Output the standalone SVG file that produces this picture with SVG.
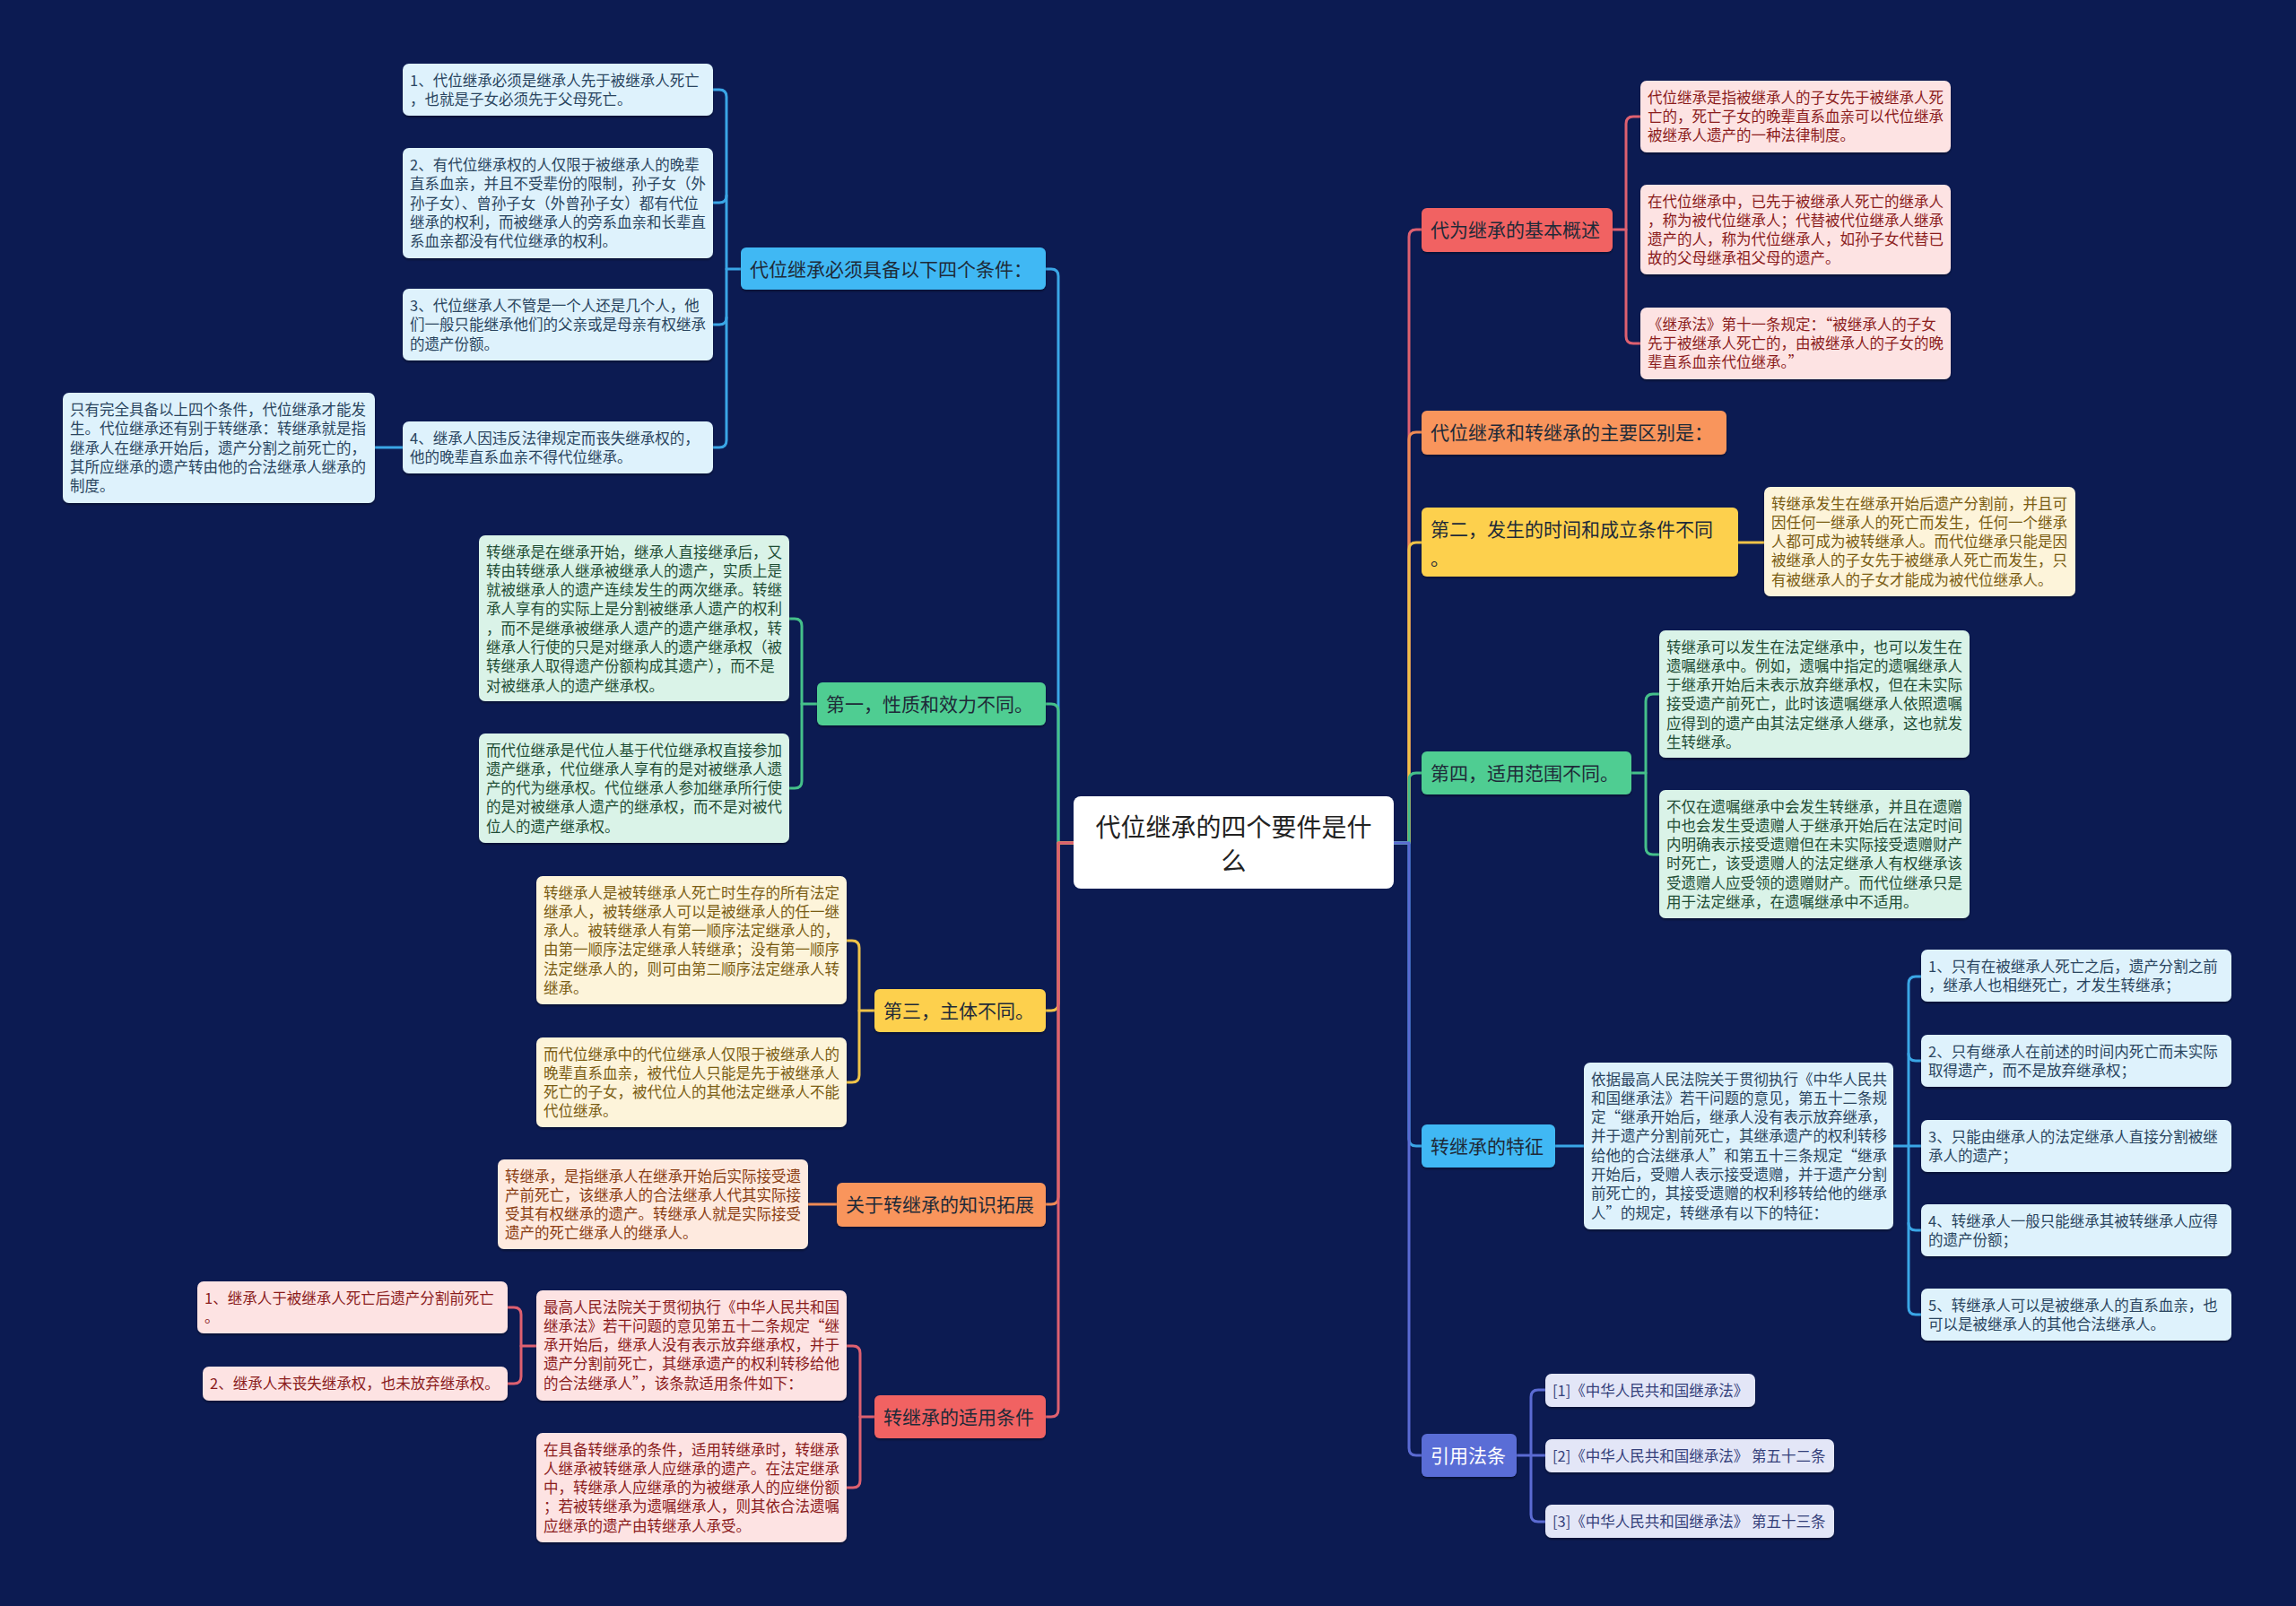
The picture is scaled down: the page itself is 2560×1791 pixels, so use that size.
<svg xmlns="http://www.w3.org/2000/svg" width="2560" height="1791" viewBox="0 0 2560 1791">
<style>
text{font-family:"Noto Sans CJK SC","Noto Sans",sans-serif}
.t{font-size:16.5px}
.m{font-size:21px}
.ln{fill:none;stroke-width:3;stroke-linecap:round;stroke-linejoin:round}
.cb{stroke:#3aa6e6}.cg{stroke:#45c08a}.cy{stroke:#f0c348}.co{stroke:#ef8b55}.cr{stroke:#de6070}.ci{stroke:#5b6bd3}
.nb{fill:#40b8f4}.ng{fill:#4fcd92}.ny{fill:#fdd04e}.no{fill:#f9955c}.nr{fill:#f16262}.ni{fill:#5a6dd6}
.bb{fill:#def2fc}.bg{fill:#daf3e8}.by{fill:#fdf4da}.bo{fill:#feeadf}.br{fill:#fde3e3}.bi{fill:#e3e6f7}
.tb{fill:#2a4560}.tg{fill:#1f4d35}.ty{fill:#7a5c12}.to{fill:#8a3d12}.tr{fill:#8b1c1c}.ti{fill:#34407a}
.mt{fill:#1e2a38}
rect.nb,rect.ng,rect.ny,rect.no,rect.nr,rect.ni,rect.bb,rect.bg,rect.by,rect.bo,rect.br,rect.bi{filter:url(#sh)}
</style>
<defs>
<filter id="sh" x="-5%" y="-10%" width="110%" height="130%">
<feDropShadow dx="0" dy="2" stdDeviation="1" flood-color="#000" flood-opacity="0.35"/>
</filter>
</defs>
<rect width="2560" height="1791" fill="#0c1b52"/>

<g id="connectors">
<path class="ln cb" d="M1197,940 H1180 V308 Q1180,300 1172,300 H1166"/>
<path class="ln cg" d="M1197,940 H1180 V793 Q1180,785 1172,785 H1166"/>
<path class="ln cy" d="M1197,940 H1180 V1119 Q1180,1127 1172,1127 H1166"/>
<path class="ln co" d="M1197,940 H1180 V1335 Q1180,1343 1172,1343 H1166"/>
<path class="ln cr" d="M1197,940 H1180 V1572 Q1180,1580 1172,1580 H1166"/>
<path class="ln cr" d="M1554,940 H1571 V264 Q1571,256 1579,256 H1585"/>
<path class="ln co" d="M1554,940 H1571 V490 Q1571,482 1579,482 H1585"/>
<path class="ln cy" d="M1554,940 H1571 V613 Q1571,605 1579,605 H1585"/>
<path class="ln cg" d="M1554,940 H1571 V870 Q1571,862 1579,862 H1585"/>
<path class="ln cb" d="M1554,940 H1571 V1270 Q1571,1278 1579,1278 H1585"/>
<path class="ln ci" d="M1554,940 H1571 V1615 Q1571,1623 1579,1623 H1585"/>
<path class="ln cb" d="M826,300 H810"/>
<path class="ln cb" d="M795,100 H802 Q810,100 810,108 V491 Q810,499 802,499 H795"/>
<path class="ln cb" d="M810,218 Q810,226 802,226 H795 M810,354 Q810,362 802,362 H795"/>
<path class="ln cb" d="M449,499 H418"/>
<path class="ln cg" d="M911,785 H894"/>
<path class="ln cg" d="M880,690 H886 Q894,690 894,698 V871 Q894,879 886,879 H880"/>
<path class="ln cy" d="M975,1127 H958"/>
<path class="ln cy" d="M944,1049 H950 Q958,1049 958,1057 V1199 Q958,1207 950,1207 H944"/>
<path class="ln co" d="M933,1343 H901"/>
<path class="ln cr" d="M975,1580 H959"/>
<path class="ln cr" d="M944,1501 H951 Q959,1501 959,1509 V1651 Q959,1659 951,1659 H944"/>
<path class="ln cr" d="M598,1501 H581"/>
<path class="ln cr" d="M566,1458 H573 Q581,1458 581,1466 V1535 Q581,1543 573,1543 H566"/>
<path class="ln cr" d="M1798,256 H1813"/>
<path class="ln cr" d="M1829,130 H1821 Q1813,130 1813,138 V375 Q1813,383 1821,383 H1829"/>
<path class="ln cy" d="M1938,605 H1967"/>
<path class="ln cg" d="M1819,862 H1835"/>
<path class="ln cg" d="M1850,774 H1843 Q1835,774 1835,782 V945 Q1835,953 1843,953 H1850"/>
<path class="ln cb" d="M1734,1278 H1766"/>
<path class="ln cb" d="M2111,1278 H2142"/>
<path class="ln cb" d="M2142,1089 H2136 Q2128,1089 2128,1097 V1458 Q2128,1466 2136,1466 H2142"/>
<path class="ln cb" d="M2128,1175 Q2128,1183 2136,1183 H2142 M2128,1364 Q2128,1372 2136,1372 H2142"/>
<path class="ln ci" d="M1691,1623 H1723"/>
<path class="ln ci" d="M1723,1550 H1715 Q1707,1550 1707,1558 V1689 Q1707,1697 1715,1697 H1723"/>
</g>

<g id="center">
<rect x="1197" y="888" width="357" height="103" rx="8" fill="#ffffff"/>
<text x="1375.5" y="932.5" font-size="28" text-anchor="middle" fill="#222">代位继承的四个要件是什</text>
<text x="1375.5" y="970.5" font-size="28" text-anchor="middle" fill="#222">么</text>
</g>

<g id="n-tiaojian">
<rect class="nb" x="826" y="276" width="340" height="47" rx="6"/>
<text class="m mt" x="836" y="307.5">代位继承必须具备以下四个条件：</text>
</g>
<g id="n-b1">
<rect class="bb" x="449" y="71" width="346" height="58" rx="7"/>
<text class="t tb" x="457" y="96"><tspan x="457">1、代位继承必须是继承人先于被继承人死亡</tspan><tspan x="457" dy="21.3">，也就是子女必须先于父母死亡。</tspan></text>
</g>
<g id="n-b2">
<rect class="bb" x="449" y="165" width="346" height="123" rx="7"/>
<text class="t tb" x="457" y="190"><tspan x="457">2、有代位继承权的人仅限于被继承人的晚辈</tspan><tspan x="457" dy="21.3">直系血亲，并且不受辈份的限制，孙子女（外</tspan><tspan x="457" dy="21.3">孙子女）、曾孙子女（外曾孙子女）都有代位</tspan><tspan x="457" dy="21.3">继承的权利，而被继承人的旁系血亲和长辈直</tspan><tspan x="457" dy="21.3">系血亲都没有代位继承的权利。</tspan></text>
</g>
<g id="n-b3">
<rect class="bb" x="449" y="322" width="346" height="80" rx="7"/>
<text class="t tb" x="457" y="347"><tspan x="457">3、代位继承人不管是一个人还是几个人，他</tspan><tspan x="457" dy="21.3">们一般只能继承他们的父亲或是母亲有权继承</tspan><tspan x="457" dy="21.3">的遗产份额。</tspan></text>
</g>
<g id="n-b4">
<rect class="bb" x="449" y="470" width="346" height="58" rx="7"/>
<text class="t tb" x="457" y="495"><tspan x="457">4、继承人因违反法律规定而丧失继承权的，</tspan><tspan x="457" dy="21.3">他的晚辈直系血亲不得代位继承。</tspan></text>
</g>
<g id="n-b4c">
<rect class="bb" x="70" y="438" width="348" height="123" rx="7"/>
<text class="t tb" x="78" y="463"><tspan x="78">只有完全具备以上四个条件，代位继承才能发</tspan><tspan x="78" dy="21.3">生。代位继承还有别于转继承：转继承就是指</tspan><tspan x="78" dy="21.3">继承人在继承开始后，遗产分割之前死亡的，</tspan><tspan x="78" dy="21.3">其所应继承的遗产转由他的合法继承人继承的</tspan><tspan x="78" dy="21.3">制度。</tspan></text>
</g>

<g id="n-diyi">
<rect class="ng" x="911" y="761" width="255" height="48" rx="6"/>
<text class="m mt" x="921" y="792.5">第一，性质和效力不同。</text>
</g>
<g id="n-ga">
<rect class="bg" x="534" y="597" width="346" height="185" rx="7"/>
<text class="t tg" x="542" y="621.5"><tspan x="542">转继承是在继承开始，继承人直接继承后，又</tspan><tspan x="542" dy="21.3">转由转继承人继承被继承人的遗产，实质上是</tspan><tspan x="542" dy="21.3">就被继承人的遗产连续发生的两次继承。转继</tspan><tspan x="542" dy="21.3">承人享有的实际上是分割被继承人遗产的权利</tspan><tspan x="542" dy="21.3">，而不是继承被继承人遗产的遗产继承权，转</tspan><tspan x="542" dy="21.3">继承人行使的只是对继承人的遗产继承权（被</tspan><tspan x="542" dy="21.3">转继承人取得遗产份额构成其遗产），而不是</tspan><tspan x="542" dy="21.3">对被继承人的遗产继承权。</tspan></text>
</g>
<g id="n-gb">
<rect class="bg" x="534" y="818" width="346" height="122" rx="7"/>
<text class="t tg" x="542" y="842.5"><tspan x="542">而代位继承是代位人基于代位继承权直接参加</tspan><tspan x="542" dy="21.3">遗产继承，代位继承人享有的是对被继承人遗</tspan><tspan x="542" dy="21.3">产的代为继承权。代位继承人参加继承所行使</tspan><tspan x="542" dy="21.3">的是对被继承人遗产的继承权，而不是对被代</tspan><tspan x="542" dy="21.3">位人的遗产继承权。</tspan></text>
</g>

<g id="n-disan">
<rect class="ny" x="975" y="1103" width="191" height="48" rx="6"/>
<text class="m mt" x="985" y="1134.5">第三，主体不同。</text>
</g>
<g id="n-yc">
<rect class="by" x="598" y="977" width="346" height="143" rx="7"/>
<text class="t ty" x="606" y="1001.5"><tspan x="606">转继承人是被转继承人死亡时生存的所有法定</tspan><tspan x="606" dy="21.3">继承人，被转继承人可以是被继承人的任一继</tspan><tspan x="606" dy="21.3">承人。被转继承人有第一顺序法定继承人的，</tspan><tspan x="606" dy="21.3">由第一顺序法定继承人转继承；没有第一顺序</tspan><tspan x="606" dy="21.3">法定继承人的，则可由第二顺序法定继承人转</tspan><tspan x="606" dy="21.3">继承。</tspan></text>
</g>
<g id="n-yd">
<rect class="by" x="598" y="1157" width="346" height="100" rx="7"/>
<text class="t ty" x="606" y="1181.5"><tspan x="606">而代位继承中的代位继承人仅限于被继承人的</tspan><tspan x="606" dy="21.3">晚辈直系血亲，被代位人只能是先于被继承人</tspan><tspan x="606" dy="21.3">死亡的子女，被代位人的其他法定继承人不能</tspan><tspan x="606" dy="21.3">代位继承。</tspan></text>
</g>

<g id="n-tuozhan">
<rect class="no" x="933" y="1319" width="233" height="49" rx="6"/>
<text class="m mt" x="943" y="1351">关于转继承的知识拓展</text>
</g>
<g id="n-oe">
<rect class="bo" x="555" y="1293" width="346" height="100" rx="7"/>
<text class="t to" x="563" y="1317.5"><tspan x="563">转继承，是指继承人在继承开始后实际接受遗</tspan><tspan x="563" dy="21.3">产前死亡，该继承人的合法继承人代其实际接</tspan><tspan x="563" dy="21.3">受其有权继承的遗产。转继承人就是实际接受</tspan><tspan x="563" dy="21.3">遗产的死亡继承人的继承人。</tspan></text>
</g>

<g id="n-shiyong">
<rect class="nr" x="975" y="1556" width="191" height="48" rx="6"/>
<text class="m mt" x="985" y="1587.5">转继承的适用条件</text>
</g>
<g id="n-rf">
<rect class="br" x="598" y="1439" width="346" height="123" rx="7"/>
<text class="t tr" x="606" y="1463.5"><tspan x="606">最高人民法院关于贯彻执行《中华人民共和国</tspan><tspan x="606" dy="21.3">继承法》若干问题的意见第五十二条规定“继</tspan><tspan x="606" dy="21.3">承开始后，继承人没有表示放弃继承权，并于</tspan><tspan x="606" dy="21.3">遗产分割前死亡，其继承遗产的权利转移给他</tspan><tspan x="606" dy="21.3">的合法继承人”，该条款适用条件如下：</tspan></text>
</g>
<g id="n-rg">
<rect class="br" x="598" y="1598" width="346" height="122" rx="7"/>
<text class="t tr" x="606" y="1622.5"><tspan x="606">在具备转继承的条件，适用转继承时，转继承</tspan><tspan x="606" dy="21.3">人继承被转继承人应继承的遗产。在法定继承</tspan><tspan x="606" dy="21.3">中，转继承人应继承的为被继承人的应继份额</tspan><tspan x="606" dy="21.3">；若被转继承为遗嘱继承人，则其依合法遗嘱</tspan><tspan x="606" dy="21.3">应继承的遗产由转继承人承受。</tspan></text>
</g>
<g id="n-rh">
<rect class="br" x="220" y="1429" width="346" height="58" rx="7"/>
<text class="t tr" x="228" y="1454"><tspan x="228">1、继承人于被继承人死亡后遗产分割前死亡</tspan><tspan x="228" dy="21.3">。</tspan></text>
</g>
<g id="n-ri">
<rect class="br" x="226" y="1524" width="340" height="38" rx="7"/>
<text class="t tr" x="234" y="1549">2、继承人未丧失继承权，也未放弃继承权。</text>
</g>

<g id="n-gaishu">
<rect class="nr" x="1585" y="232" width="213" height="49" rx="6"/>
<text class="m mt" x="1595" y="264">代为继承的基本概述</text>
</g>
<g id="n-j">
<rect class="br" x="1829" y="90" width="346" height="80" rx="7"/>
<text class="t tr" x="1837" y="114.5"><tspan x="1837">代位继承是指被继承人的子女先于被继承人死</tspan><tspan x="1837" dy="21.3">亡的，死亡子女的晚辈直系血亲可以代位继承</tspan><tspan x="1837" dy="21.3">被继承人遗产的一种法律制度。</tspan></text>
</g>
<g id="n-k">
<rect class="br" x="1829" y="206" width="346" height="100" rx="7"/>
<text class="t tr" x="1837" y="230.5"><tspan x="1837">在代位继承中，已先于被继承人死亡的继承人</tspan><tspan x="1837" dy="21.3">，称为被代位继承人；代替被代位继承人继承</tspan><tspan x="1837" dy="21.3">遗产的人，称为代位继承人，如孙子女代替已</tspan><tspan x="1837" dy="21.3">故的父母继承祖父母的遗产。</tspan></text>
</g>
<g id="n-l">
<rect class="br" x="1829" y="343" width="346" height="80" rx="7"/>
<text class="t tr" x="1837" y="367.5"><tspan x="1837">《继承法》第十一条规定：“被继承人的子女</tspan><tspan x="1837" dy="21.3">先于被继承人死亡的，由被继承人的子女的晚</tspan><tspan x="1837" dy="21.3">辈直系血亲代位继承。”</tspan></text>
</g>

<g id="n-qubie">
<rect class="no" x="1585" y="458" width="340" height="49" rx="6"/>
<text class="m mt" x="1595" y="490">代位继承和转继承的主要区别是：</text>
</g>

<g id="n-dier">
<rect class="ny" x="1585" y="566" width="353" height="77" rx="6"/>
<text class="m mt" x="1595" y="597.5"><tspan x="1595">第二，发生的时间和成立条件不同</tspan><tspan x="1595" dy="32">。</tspan></text>
</g>
<g id="n-m">
<rect class="by" x="1967" y="543" width="347" height="122" rx="7"/>
<text class="t ty" x="1975" y="567.5"><tspan x="1975">转继承发生在继承开始后遗产分割前，并且可</tspan><tspan x="1975" dy="21.3">因任何一继承人的死亡而发生，任何一个继承</tspan><tspan x="1975" dy="21.3">人都可成为被转继承人。而代位继承只能是因</tspan><tspan x="1975" dy="21.3">被继承人的子女先于被继承人死亡而发生，只</tspan><tspan x="1975" dy="21.3">有被继承人的子女才能成为被代位继承人。</tspan></text>
</g>

<g id="n-disi">
<rect class="ng" x="1585" y="838" width="234" height="48" rx="6"/>
<text class="m mt" x="1595" y="869.5">第四，适用范围不同。</text>
</g>
<g id="n-n">
<rect class="bg" x="1850" y="703" width="346" height="142" rx="7"/>
<text class="t tg" x="1858" y="727.5"><tspan x="1858">转继承可以发生在法定继承中，也可以发生在</tspan><tspan x="1858" dy="21.3">遗嘱继承中。例如，遗嘱中指定的遗嘱继承人</tspan><tspan x="1858" dy="21.3">于继承开始后未表示放弃继承权，但在未实际</tspan><tspan x="1858" dy="21.3">接受遗产前死亡，此时该遗嘱继承人依照遗嘱</tspan><tspan x="1858" dy="21.3">应得到的遗产由其法定继承人继承，这也就发</tspan><tspan x="1858" dy="21.3">生转继承。</tspan></text>
</g>
<g id="n-o">
<rect class="bg" x="1850" y="881" width="346" height="143" rx="7"/>
<text class="t tg" x="1858" y="905.5"><tspan x="1858">不仅在遗嘱继承中会发生转继承，并且在遗赠</tspan><tspan x="1858" dy="21.3">中也会发生受遗赠人于继承开始后在法定时间</tspan><tspan x="1858" dy="21.3">内明确表示接受遗赠但在未实际接受遗赠财产</tspan><tspan x="1858" dy="21.3">时死亡，该受遗赠人的法定继承人有权继承该</tspan><tspan x="1858" dy="21.3">受遗赠人应受领的遗赠财产。而代位继承只是</tspan><tspan x="1858" dy="21.3">用于法定继承，在遗嘱继承中不适用。</tspan></text>
</g>

<g id="n-tezheng">
<rect class="nb" x="1585" y="1254" width="149" height="48" rx="6"/>
<text class="m mt" x="1595" y="1285.5">转继承的特征</text>
</g>
<g id="n-p">
<rect class="bb" x="1766" y="1185" width="345" height="186" rx="7"/>
<text class="t tb" x="1774" y="1209.5"><tspan x="1774">依据最高人民法院关于贯彻执行《中华人民共</tspan><tspan x="1774" dy="21.3">和国继承法》若干问题的意见，第五十二条规</tspan><tspan x="1774" dy="21.3">定“继承开始后，继承人没有表示放弃继承，</tspan><tspan x="1774" dy="21.3">并于遗产分割前死亡，其继承遗产的权利转移</tspan><tspan x="1774" dy="21.3">给他的合法继承人”和第五十三条规定“继承</tspan><tspan x="1774" dy="21.3">开始后，受赠人表示接受遗赠，并于遗产分割</tspan><tspan x="1774" dy="21.3">前死亡的，其接受遗赠的权利移转给他的继承</tspan><tspan x="1774" dy="21.3">人”的规定，转继承有以下的特征：</tspan></text>
</g>
<g id="n-q1">
<rect class="bb" x="2142" y="1059" width="346" height="58" rx="7"/>
<text class="t tb" x="2150" y="1084"><tspan x="2150">1、只有在被继承人死亡之后，遗产分割之前</tspan><tspan x="2150" dy="21.3">，继承人也相继死亡，才发生转继承；</tspan></text>
</g>
<g id="n-q2">
<rect class="bb" x="2142" y="1154" width="346" height="58" rx="7"/>
<text class="t tb" x="2150" y="1179"><tspan x="2150">2、只有继承人在前述的时间内死亡而未实际</tspan><tspan x="2150" dy="21.3">取得遗产，而不是放弃继承权；</tspan></text>
</g>
<g id="n-q3">
<rect class="bb" x="2142" y="1249" width="346" height="58" rx="7"/>
<text class="t tb" x="2150" y="1274"><tspan x="2150">3、只能由继承人的法定继承人直接分割被继</tspan><tspan x="2150" dy="21.3">承人的遗产；</tspan></text>
</g>
<g id="n-q4">
<rect class="bb" x="2142" y="1343" width="346" height="58" rx="7"/>
<text class="t tb" x="2150" y="1368"><tspan x="2150">4、转继承人一般只能继承其被转继承人应得</tspan><tspan x="2150" dy="21.3">的遗产份额；</tspan></text>
</g>
<g id="n-q5">
<rect class="bb" x="2142" y="1437" width="346" height="58" rx="7"/>
<text class="t tb" x="2150" y="1462"><tspan x="2150">5、转继承人可以是被继承人的直系血亲，也</tspan><tspan x="2150" dy="21.3">可以是被继承人的其他合法继承人。</tspan></text>
</g>

<g id="n-yinyong">
<rect class="ni" x="1585" y="1599" width="106" height="48" rx="6"/>
<text class="m" x="1595" y="1630.5" fill="#ffffff">引用法条</text>
</g>
<g id="n-r1">
<rect class="bi" x="1723" y="1532" width="234" height="37" rx="7"/>
<text class="t ti" x="1731" y="1556.5">[1]《中华人民共和国继承法》</text>
</g>
<g id="n-r2">
<rect class="bi" x="1723" y="1605" width="322" height="37" rx="7"/>
<text class="t ti" x="1731" y="1629.5">[2]《中华人民共和国继承法》 第五十二条</text>
</g>
<g id="n-r3">
<rect class="bi" x="1723" y="1678" width="322" height="37" rx="7"/>
<text class="t ti" x="1731" y="1702.5">[3]《中华人民共和国继承法》 第五十三条</text>
</g>
</svg>
